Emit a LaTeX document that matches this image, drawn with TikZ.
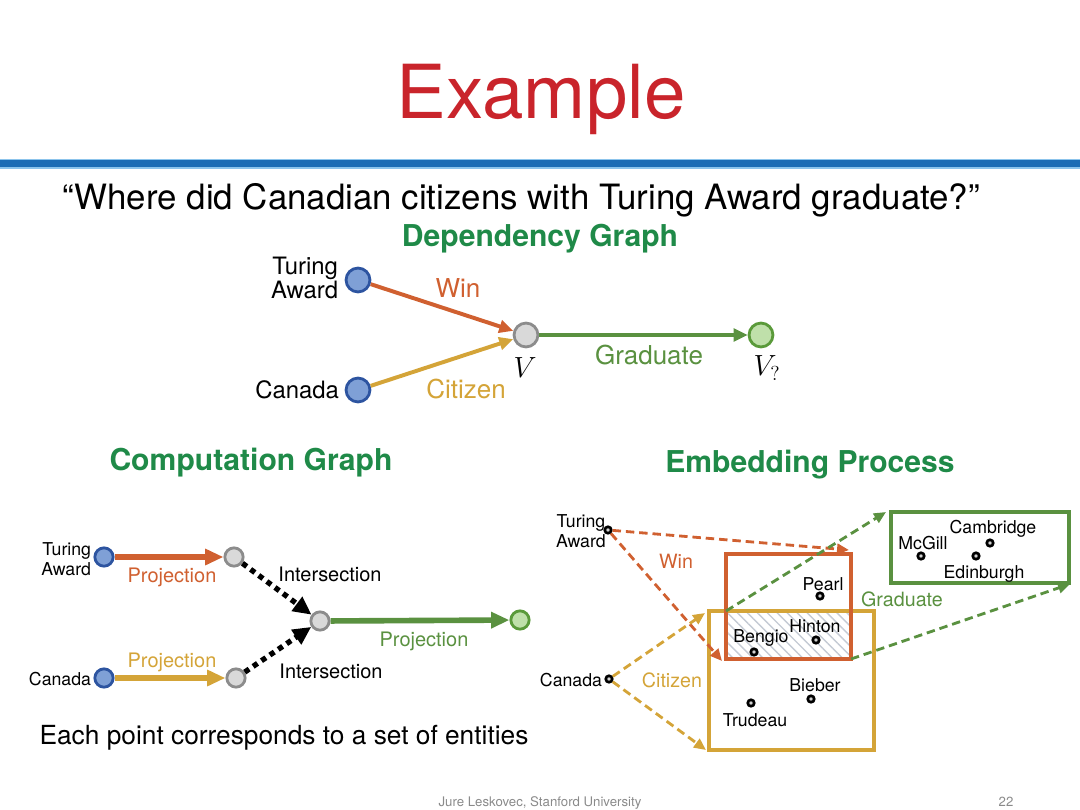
\documentclass[tikz,border=0pt]{standalone}
\usepackage{fontspec}
\setmainfont{TeX Gyre Heros}
\usetikzlibrary{arrows.meta,patterns.meta}
\definecolor{titlered}{HTML}{C9242B}
\definecolor{barblue}{HTML}{1C6CB5}
\definecolor{barlight}{HTML}{8CC4EC}
\definecolor{headgreen}{HTML}{1F8A48}
\definecolor{orangeC}{HTML}{D06030}
\definecolor{goldC}{HTML}{D4A438}
\definecolor{greenC}{HTML}{5A9140}
\definecolor{bluefill}{HTML}{7FA0D6}
\definecolor{blueedge}{HTML}{2D54A0}
\definecolor{grayfill}{HTML}{D9D9D9}
\definecolor{grayedge}{HTML}{8C8C8C}
\definecolor{lgfill}{HTML}{BFE0AA}
\definecolor{lgedge}{HTML}{5A9A3A}
\definecolor{hatchC}{HTML}{C4CAD4}
\definecolor{footgray}{HTML}{8A8A8A}
\tikzset{
  fs/.style={font=\fontsize{#1}{#1}\selectfont},
  fsb/.style={font=\fontsize{#1}{#1}\selectfont\bfseries},
  fsl/.style 2 args={font=\fontsize{#1}{#2}\selectfont},
  bnode/.style={circle,draw=blueedge,fill=bluefill,line width=2pt,minimum size=17pt,inner sep=0pt},
  gnode/.style={circle,draw=grayedge,fill=grayfill,line width=2pt,minimum size=17pt,inner sep=0pt},
  lgnode/.style={circle,draw=lgedge,fill=lgfill,line width=2pt,minimum size=17pt,inner sep=0pt},
  sbnode/.style={bnode,minimum size=13pt},
  sgnode/.style={gnode,minimum size=13pt},
  slgnode/.style={lgnode,minimum size=13pt},
  darrow/.style={line width=2.8pt,-{Triangle[length=10pt,width=9pt]}},
  carrow/.style={line width=4pt,-{Triangle[length=13pt,width=11pt]}},
  dotarrow/.style={line width=3.8pt,dash pattern=on 3.8pt off 3.4pt,-{Triangle[length=13pt,width=12pt]},black},
  dsharrow/.style={line width=2pt,dash pattern=on 6pt off 3.5pt,-{Triangle[length=8.5pt,width=7.5pt]}},
  pt/.style={circle,draw=black,fill=gray!35,line width=1.9pt,minimum size=4.6pt,inner sep=0pt},
  ebox/.style={line width=2.2pt},
}
\begin{document}
\begin{tikzpicture}[x=0.025cm,y=-0.025cm]
\useasboundingbox (0,0) rectangle (1080,810);
% title and bar
\node[fs=53,text=titlered,anchor=base] (title) at (541,118) {Example};
\fill[barlight] (0,158.5) rectangle (1080,168.5);
\fill[barblue] (0,160) rectangle (1080,167);
\node[fs=24.8,anchor=base] (question) at (521,209) {“Where did Canadian citizens with Turing Award graduate?”};
\node[fsb=21.4,text=headgreen,anchor=base] (hdep) at (540,246) {Dependency Graph};
\node[fsb=21.4,text=headgreen,anchor=base] (hcomp) at (251,470) {Computation Graph};
\node[fsb=21.4,text=headgreen,anchor=base] (hemb) at (810,472) {Embedding Process};

% dependency graph
\node[bnode] (dta) at (358,280) {};
\node[bnode] (dca) at (358,390) {};
\node[gnode] (dv) at (526,335) {};
\node[lgnode] (dvq) at (761,335) {};
\draw[darrow,orangeC] (dta) -- (dv);
\draw[darrow,goldC] (dca) -- (dv);
\draw[darrow,greenC] (dv) -- (dvq);
\node[fs=18.5,text=orangeC] (lwin) at (458,288) {Win};
\node[fs=18.5,text=goldC] (lcit) at (466,389) {Citizen};
\node[fs=18.5,text=greenC] (lgrad) at (649,355) {Graduate};
\node[fs=22] (lv) at (525,368) {$V$};
\node[fs=22] (lvq) at (767,368) {$V_?$};
\node[fsl={17}{15.5},align=right,anchor=east] (tta) at (343,278) {Turing\\Award};
\node[fs=17,anchor=east] (tca) at (344,390) {Canada};

% computation graph
\node[sbnode] (cta) at (104,557) {};
\node[sbnode] (cca) at (104,678) {};
\node[sgnode] (c1) at (234,557) {};
\node[sgnode] (c2) at (236,678) {};
\node[sgnode] (c3) at (320,621) {};
\node[slgnode] (c4) at (520,620) {};
\draw[carrow,orangeC] (cta) -- (c1);
\draw[carrow,goldC] (cca) -- (c2);
\draw[dotarrow] (c1) -- (c3);
\draw[dotarrow] (c2) -- (c3);
\draw[carrow,greenC] (c3) -- (c4);
\node[fs=14.2,text=orangeC] (cp1) at (172,577) {Projection};
\node[fs=14.2,text=goldC] (cp2) at (172,662) {Projection};
\node[fs=14.2,text=greenC] (cp3) at (424,641) {Projection};
\node[fs=14.2] (ci1) at (330,574) {Intersection};
\node[fs=14.2] (ci2) at (331,671) {Intersection};
\node[fsl={12.6}{14},align=right,anchor=east] (ctal) at (96,559) {Turing\\Award};
\node[fs=12.6,anchor=east] (ccal) at (96,679) {Canada};
\node[fs=18.7,anchor=base] (each) at (284,744) {Each point corresponds to a set of entities};

% embedding process
\coordinate (ob1) at (726,554);
\coordinate (ob2) at (851,659);
\coordinate (gb1) at (709,611);
\coordinate (gb2) at (874,750);
\coordinate (nb1) at (891,512);
\coordinate (nb2) at (1069,583);
\fill[pattern={Lines[angle=-45,distance=5pt,line width=1pt]},pattern color=hatchC] (ob1 |- gb1) rectangle (ob2);
\draw[ebox,goldC] (gb1) rectangle (gb2);
\draw[ebox,orangeC] (ob1) rectangle (ob2);
\draw[ebox,greenC] (nb1) rectangle (nb2);

\node[pt] (eta) at (608,530) {};
\node[pt] (eca) at (609,679) {};
\node[fsl={12.6}{14},align=center] (etal) at (581,531) {Turing\\Award};
\node[fs=12.6,anchor=east] (ecal) at (607,680) {Canada};

\coordinate (t1) at (849,550);
\coordinate (t2) at (722,661);
\coordinate (t3) at (705,613);
\coordinate (t4) at (706,750);
\coordinate (g0) at (ob1 |- gb1);
\coordinate (g1) at (886,512);
\coordinate (g2) at (1070,584);
\draw[dsharrow,orangeC] (eta) -- (t1);
\draw[dsharrow,orangeC] (eta) -- (t2);
\draw[dsharrow,goldC] (eca) -- (t3);
\draw[dsharrow,goldC] (eca) -- (t4);
\draw[dsharrow,greenC] (g0) -- (g1);
\draw[dsharrow,greenC] (ob2) -- (g2);

\node[fs=14,text=orangeC] (ewin) at (676,561) {Win};
\node[fs=14,text=goldC] (ecit) at (672,680) {Citizen};
\node[fs=14,text=greenC] (egrad) at (902,599) {Graduate};

\node[pt] (pearl) at (820,596) {};
\node[pt] (hinton) at (816,640) {};
\node[pt] (bengio) at (754,652) {};
\node[pt] (bieber) at (811,699) {};
\node[pt] (trudeau) at (751,703) {};
\node[pt] (mcgill) at (921,556) {};
\node[pt] (cambridge) at (990,543) {};
\node[pt] (edinburgh) at (976,556) {};
\node[fs=12.6] (lpearl) at (823,584) {Pearl};
\node[fs=12.6] (lhinton) at (815,626) {Hinton};
\node[fs=12.6] (lbengio) at (761,638) {Bengio};
\node[fs=12.6] (lbieber) at (815,685) {Bieber};
\node[fs=12.6] (ltrudeau) at (755,720) {Trudeau};
\node[fs=12.6] (lmcgill) at (923,543) {McGill};
\node[fs=12.6] (lcambridge) at (993,529) {Cambridge};
\node[fs=12.6] (ledinburgh) at (984,574) {Edinburgh};

% footer
\node[fs=9.4,text=footgray,anchor=base] (foot) at (540,806) {Jure Leskovec, Stanford University};
\node[fs=9.4,text=footgray,anchor=base] (pnum) at (1006,806) {22};
\end{tikzpicture}
\end{document}
